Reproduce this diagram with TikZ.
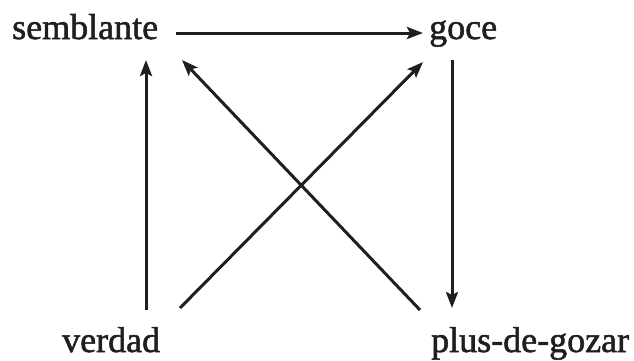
\documentclass[tikz,border=0pt]{standalone}
\usepackage{fontspec}
\setmainfont{Liberation Serif}[FakeBold=1.5]
\usetikzlibrary{arrows.meta}
\begin{document}
\begin{tikzpicture}[x=1pt,y=1pt,
  lbl/.style={inner sep=0pt,anchor=base west,font=\fontsize{36}{40}\selectfont,text=black!88},
  arr/.style={-{Stealth[length=16pt,width=12pt,inset=3pt]},line width=3pt,draw=black!88}]
\useasboundingbox (0,0) rectangle (634,360);
\node[lbl] (s) at (12,321) {semblante};
\node[lbl] (g) at (429,321) {goce};
\node[lbl] (v) at (62,8) {verdad};
\node[lbl] (p) at (431,8) {plus-de-gozar};
\draw[arr] ([shift={(164pt,6pt)}]s.base west) -- ([shift={(-6pt,6pt)}]g.base west);
\draw[arr] ([shift={(84pt,42pt)}]v.base west) -- ([shift={(134pt,-21pt)}]s.base west);
\draw[arr] ([shift={(23pt,-21pt)}]g.base west) -- ([shift={(21pt,44pt)}]p.base west);
\draw[arr] ([shift={(118pt,44pt)}]v.base west) -- ([shift={(-6pt,-23pt)}]g.base west);
\draw[arr] ([shift={(-11pt,42pt)}]p.base west) -- ([shift={(170pt,-21pt)}]s.base west);
\end{tikzpicture}
\end{document}
